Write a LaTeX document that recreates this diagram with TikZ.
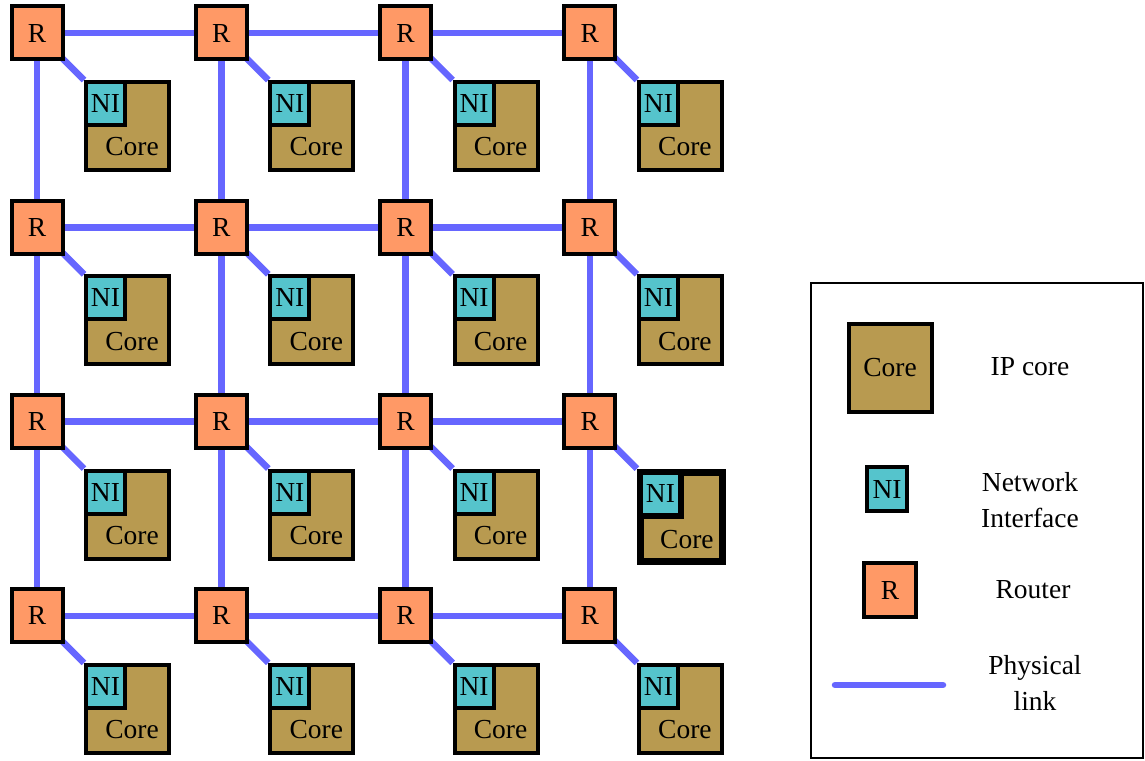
\documentclass[tikz,border=0pt]{standalone}
\usepackage{fontspec}
\setmainfont{Liberation Serif}
\usetikzlibrary{backgrounds,calc}
\definecolor{routerc}{HTML}{FF9966}
\definecolor{corec}{HTML}{B89A50}
\definecolor{nic}{HTML}{55C4CC}
\definecolor{linkc}{HTML}{6666FF}
\begin{document}
\begin{tikzpicture}[x=1pt,y=-1pt,
  font=\fontsize{27.5}{36}\selectfont,
  router/.style={draw=black, fill=routerc, line width=4pt, minimum width=51pt, minimum height=53pt, inner sep=0pt},
  core/.style={draw=black, fill=corec, line width=4pt, minimum width=83pt, minimum height=88pt, inner sep=0pt, anchor=north west},
  boldcore/.style={draw=black, fill=corec, line width=7pt, minimum width=82pt, minimum height=89pt, inner sep=0pt, anchor=north west},
  ni/.style={draw=black, fill=nic, line width=4pt, minimum width=39pt, minimum height=43pt, inner sep=0pt, anchor=north west},
  boldni/.style={draw=black, fill=nic, line width=6pt, minimum width=41pt, minimum height=44pt, inner sep=0pt, anchor=north west},
  label/.style={inner sep=0pt, align=center},
  link/.style={draw=linkc, line width=6.5pt},
  legendbox/.style={draw=black, line width=2pt}
]
\useasboundingbox (0,0) rectangle (1145,760);
\foreach \i in {0,...,3}{
  \foreach \j in {0,...,3}{
    \tikzset{curcore/.style={core}, curni/.style={ni}}
    \ifnum\i=3 \ifnum\j=2 \tikzset{curcore/.style={boldcore}, curni/.style={boldni}}\fi\fi
    \node[router] (r\i\j) at ({37+184.3*\i},{33+194.3*\j}) {R};
    \node[curcore] (c\i\j) at ({84+184.3*\i},{80+194.3*\j}) {};
    \node[curni] (n\i\j) at (c\i\j.north west) {NI};
    \node[label] (t\i\j) at ($(c\i\j.south east)+(-39,-25)$) {Core};
  }
}
\begin{scope}[on background layer]
  \foreach \i in {0,...,3}{
    \foreach \j in {0,...,3}{
      \draw[link] (r\i\j.center) -- (c\i\j.north west);
    }
  }
  \foreach \j in {0,...,3}{
    \draw[link] (r0\j.center) -- (r1\j.center) -- (r2\j.center) -- (r3\j.center);
  }
  \foreach \i in {0,...,3}{
    \draw[link] (r\i0.center) -- (r\i1.center) -- (r\i2.center) -- (r\i3.center);
  }
\end{scope}
% legend
\draw[legendbox] (811,283) rectangle (1143,758);
\node[core, anchor=center] (lcore) at (890,367.5) {Core};
\node[label] (lcoret) at (1030,367) {IP core};
\node[ni, anchor=center, minimum width=40pt, minimum height=44pt] (lni) at (887,489) {NI};
\node[label] (lnit) at (1030,500) {Network\\Interface};
\node[router, minimum width=52pt, minimum height=54pt] (lr) at (890,590) {R};
\node[label] (lrt) at (1033,590) {Router};
\coordinate (la) at (835,685);
\coordinate (lb) at (943,685);
\draw[link, line cap=round] (la) -- (lb);
\node[label] (llt) at (1035,683) {Physical\\link};
\end{tikzpicture}
\end{document}
